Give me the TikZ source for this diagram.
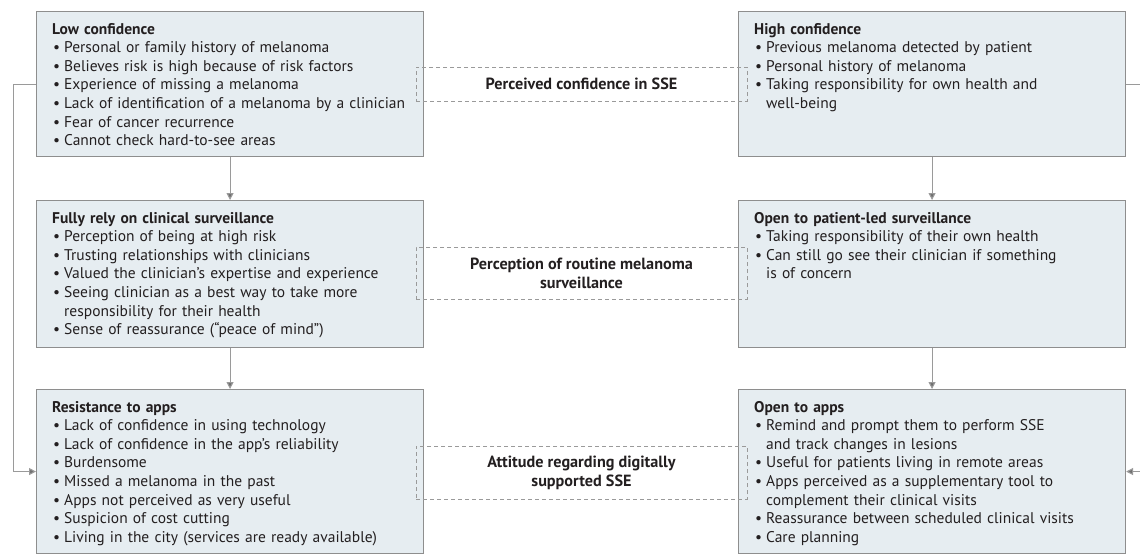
\documentclass[tikz,border=0pt]{standalone}
\usepackage{fontspec}
\setmainfont{PT Sans}
\usetikzlibrary{arrows.meta}
\definecolor{boxfill}{HTML}{E6EDF1}
\definecolor{boxline}{HTML}{8E8E8E}
\definecolor{arrline}{HTML}{9A9A9A}
\definecolor{tipcol}{HTML}{6E6E6E}
\definecolor{txtcol}{HTML}{231F20}
\newcommand\bitem{\par\hangindent=12pt\hangafter=1\noindent\makebox[12pt][l]{\hspace{1pt}•}}
\tikzset{
  box/.style={draw=boxline, fill=boxfill, line width=1.1pt, anchor=north west, inner sep=0pt},
  txt/.style={anchor=base west, inner sep=0pt, text width=380pt, text=txtcol,
    execute at begin node=\raggedright\noindent,
    font=\fontsize{15.5}{18.6}\selectfont},
  dbox/.style={draw=arrline, dashed, dash pattern=on 4pt off 3pt, line width=0.9pt, minimum width=331pt, inner sep=0pt,
    align=center, text=txtcol, font=\fontsize{16.2}{19}\selectfont\bfseries},
  arr/.style={draw=arrline, line width=1.1pt, -{Triangle[width=7pt,length=7pt,fill=tipcol]}}
}
\begin{document}
\begin{tikzpicture}[x=1pt,y=-1pt]
\useasboundingbox (0,0) rectangle (1140,555);
% boxes
\node[box, minimum width=387pt, minimum height=145pt] (L1) at (36,11) {};
\node[box, minimum width=387pt, minimum height=147pt] (L2) at (36,200) {};
\node[box, minimum width=387pt, minimum height=164pt] (L3) at (36,389) {};
\node[box, minimum width=387pt, minimum height=145pt] (R1) at (738,11) {};
\node[box, minimum width=387pt, minimum height=147pt] (R2) at (738,200) {};
\node[box, minimum width=387pt, minimum height=164pt] (R3) at (738,389) {};
% texts
\node[txt] (tL1) at (52,34) {\textbf{Low confidence}
\bitem Personal or family history of melanoma
\bitem Believes risk is high because of risk factors
\bitem Experience of missing a melanoma
\bitem Lack of identification of a melanoma by a clinician
\bitem Fear of cancer recurrence
\bitem Cannot check hard-to-see areas\par};
\node[txt] (tL2) at (52,223) {\textbf{Fully rely on clinical surveillance}
\bitem Perception of being at high risk
\bitem Trusting relationships with clinicians
\bitem Valued the clinician’s expertise and experience
\bitem Seeing clinician as a best way to take more\newline responsibility for their health
\bitem Sense of reassurance (“peace of mind”)\par};
\node[txt] (tL3) at (52,412) {\textbf{Resistance to apps}
\bitem Lack of confidence in using technology
\bitem Lack of confidence in the app’s reliability
\bitem Burdensome
\bitem Missed a melanoma in the past
\bitem Apps not perceived as very useful
\bitem Suspicion of cost cutting
\bitem Living in the city (services are ready available)\par};
\node[txt] (tR1) at (754,34) {\textbf{High confidence}
\bitem Previous melanoma detected by patient
\bitem Personal history of melanoma
\bitem Taking responsibility for own health and\newline well-being\par};
\node[txt] (tR2) at (754,223) {\textbf{Open to patient-led surveillance}
\bitem Taking responsibility of their own health
\bitem Can still go see their clinician if something\newline is of concern\par};
\node[txt] (tR3) at (754,412) {\textbf{Open to apps}
\bitem Remind and prompt them to perform SSE\newline and track changes in lesions
\bitem Useful for patients living in remote areas
\bitem Apps perceived as a supplementary tool to\newline complement their clinical visits
\bitem Reassurance between scheduled clinical visits
\bitem Care planning\par};
% dashed label boxes
\node[dbox, minimum height=34pt] (D1) at (581.5,84) {Perceived confidence in SSE};
\node[dbox, minimum height=52pt] (D2) at (581.5,273) {Perception of routine melanoma\\surveillance};
\node[dbox, minimum height=53pt] (D3) at (581.5,472.5) {Attitude regarding digitally\\supported SSE};
% connectors
\draw[arr] (L1) -- (L2);
\draw[arr] (L2) -- (L3);
\draw[arr] (R1) -- (R2);
\draw[arr] (R2) -- (R3);
\draw[arr] (L1.west) -- ++(-22.5,0) |- (L3.west);
\draw[arr] (R1.east) -- ++(22,0) |- (R3.east);
\end{tikzpicture}
\end{document}
